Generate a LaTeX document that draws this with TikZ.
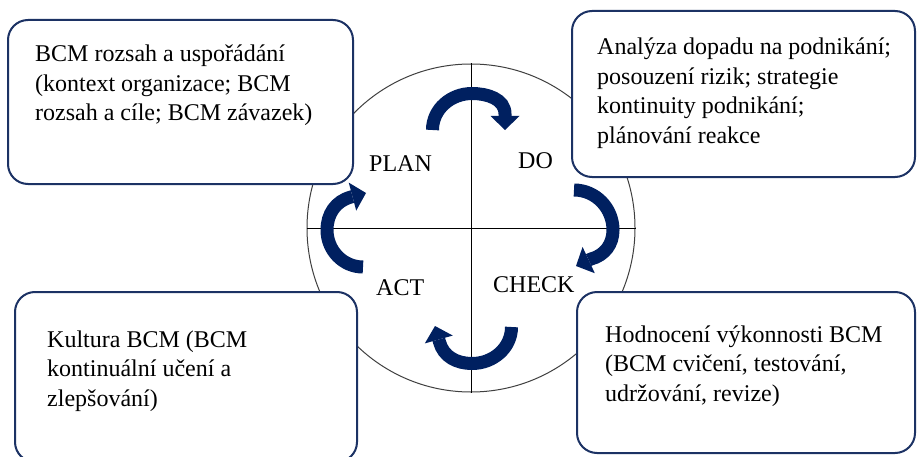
\documentclass[tikz,border=0pt]{standalone}
\usepackage{fontspec}
\setmainfont{Liberation Serif}
\usetikzlibrary{arrows.meta}
\definecolor{navy}{RGB}{0,32,96}
\definecolor{boxline}{RGB}{28,50,100}
\newcommand{\boxlines}[1]{\begin{tabular}[t]{@{}l@{}}#1\end{tabular}}

\begin{document}
\begin{tikzpicture}[x=1pt,y=1pt,
  infobox/.style={draw=boxline, line width=2pt, fill=white, rounded corners=20pt,
                  inner sep=0pt},
  boxtext/.style={anchor=base west, inner sep=0pt, font=\fontsize{24}{29.5}\selectfont},
  phase/.style={anchor=base west, inner sep=0pt, font=\fontsize{24}{29}\selectfont},
  turn/.style={draw=navy, line width=13pt,
               -{Triangle[width=29pt,length=14pt,line width=0pt]}},
]
\useasboundingbox (0,0) rectangle (917,456);
\fill[white] (0,0) rectangle (917,456);

% PDCA ring with its quadrant cross
\node[circle, draw=black!75, line width=1pt, minimum size=328pt, inner sep=0pt]
  (ring) at (471,228) {};
\draw[line width=0.9pt] (ring.west) -- (ring.east);
\draw[line width=0.9pt] (ring.north) -- (ring.south);

% corner boxes
\node[infobox, minimum width=345pt, minimum height=164pt] (plan box) at (180.5,354) {};
\node[infobox, minimum width=343pt, minimum height=166pt] (do box)   at (743.5,362) {};
\node[infobox, minimum width=342pt, minimum height=170pt] (act box)  at (186,79) {};
\node[infobox, minimum width=338pt, minimum height=161pt] (check box) at (746,83.5) {};

\node[boxtext] (plan text) at (35,394) {\boxlines{BCM rozsah a uspořádání\\(kontext organizace; BCM\\rozsah a cíle; BCM závazek)}};
\node[boxtext] (do text) at (597,401) {\boxlines{Analýza dopadu na podnikání;\\posouzení rizik; strategie\\kontinuity podnikání;\\plánování reakce}};
\node[boxtext] (act text) at (47,109) {\boxlines{Kultura BCM (BCM\\kontinuální učení a\\zlepšování)}};
\node[boxtext] (check text) at (605,114) {\boxlines{Hodnocení výkonnosti BCM\\(BCM cvičení, testování,\\udržování, revize)}};

% phase labels
\node[phase] (plan) at (369,285) {PLAN};
\node[phase] (do) at (518,288) {DO};
\node[phase] (act) at (376,161) {ACT};
\node[phase] (check) at (493,164) {CHECK};

% curved cycle arrows
\draw[turn] (432.5,326) to[out=90,in=180] (472,362.5) to[out=0,in=90] (505,342) -- (505,326);
\draw[turn] (574,266) to[out=0,in=90] (613,226) to[out=-90,in=15] (591,197) -- (576,190);
\draw[turn] (511.5,129) to[out=-90,in=0] (472,92.5) to[out=180,in=-75] (439.5,114) -- (435,130);
\draw[turn] (363,189) to[out=180,in=-90] (327,226) to[out=90,in=195] (351,259) -- (366,263);
\end{tikzpicture}
\end{document}
